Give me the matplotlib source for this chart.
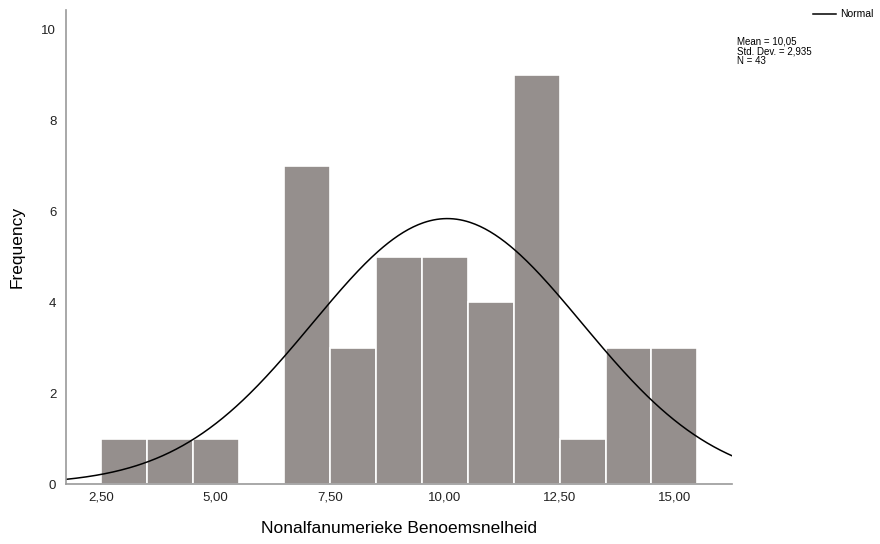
import numpy as np
import matplotlib
matplotlib.use('agg')
import matplotlib.pyplot as plt

plt.rcParams['font.family'] = ['Liberation Sans', 'DejaVu Sans']

# histogram bins (centres) and counts
bin_centres = [3, 4, 5, 6, 7, 8, 9, 10, 11, 12, 13, 14, 15]
counts = [1, 1, 1, 0, 7, 3, 5, 5, 4, 9, 1, 3, 3]
mean = 10.05
std_dev = 2.935
n_obs = 43
x_ticks = [2.5, 5.0, 7.5, 10.0, 12.5, 15.0]
x_tick_labels = ['2,50', '5,00', '7,50', '10,00', '12,50', '15,00']
y_ticks = [0, 2, 4, 6, 8, 10]

fig = plt.figure(figsize=(8.8, 5.44), dpi=100)
ax = fig.add_axes([0.075, 0.110, 0.757, 0.872])

ax.bar(bin_centres, counts, width=1.0, color='#958f8d', edgecolor='white', linewidth=1.2)

# fitted normal curve (bin width 1)
xs = np.linspace(1.74, 16.26, 400)
ys = n_obs * 1.0 / (std_dev * np.sqrt(2 * np.pi)) * np.exp(-0.5 * ((xs - mean) / std_dev) ** 2)
ax.plot(xs, ys, color='black', linewidth=1.1, label='Normal')

ax.set_xlim(1.74, 16.26)
ax.set_ylim(0, 10.44)
ax.set_xticks(x_ticks)
ax.set_xticklabels(x_tick_labels)
ax.set_yticks(y_ticks)
ax.tick_params(length=0, labelsize=9.5, colors='#222222')
ax.tick_params(axis='x', pad=5)
ax.tick_params(axis='y', pad=7)
for side in ['top', 'right']:
    ax.spines[side].set_visible(False)
for side in ['left', 'bottom']:
    ax.spines[side].set_color('#999999')
    ax.spines[side].set_linewidth(1.2)

ax.set_xlabel('Nonalfanumerieke Benoemsnelheid', fontsize=12.5, labelpad=13)
ax.set_ylabel('Frequency', fontsize=12.5, labelpad=12)

# legend and summary text
fig.legend(loc='upper right', bbox_to_anchor=(1.003, 1.0), frameon=False, fontsize=7.5,
           handlelength=2.2, handletextpad=0.4)
fig.text(0.838, 0.932, 'Mean = 10,05\nStd. Dev. = 2,935\nN = 43', fontsize=7,
         va='top', ha='left', linespacing=0.95)

fig.savefig('out.png', dpi=100)
